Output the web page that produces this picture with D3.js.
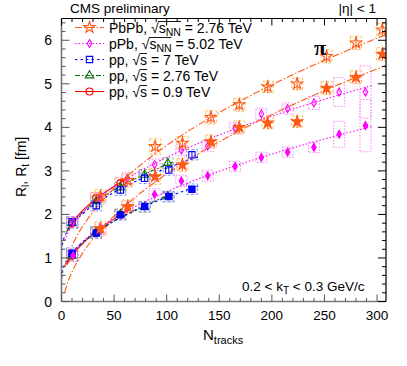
<!DOCTYPE html>
<html><head><meta charset="utf-8">
<script src="https://cdn.jsdelivr.net/npm/d3@7"></script>
<style>body{margin:0;background:#fff}svg{display:block;font-family:"Liberation Sans",Arial,sans-serif}</style>
</head><body><svg id="c" width="407" height="366"></svg>
<script>
// ---- data ----
const pbpbN = [37, 63, 89, 115, 142, 169, 196, 224, 252, 280, 305];
const pbpbRl = [2.42, 2.78, 3.56, 3.64, 4.23, 4.52, 4.93, 5.00, 5.63, 5.94, 6.24];
const pbpbRt = [1.68, 2.18, 2.87, 3.14, 3.67, 4.00, 4.10, 4.13, 4.90, 5.15, 5.68];
const pbpbSys = [0.15, 0.15, 0.18, 0.15, 0.15, 0.15, 0.13, 0.13, 0.15, 0.15, 0.15];

const ppbN = [11, 37, 62.5, 88.5, 114, 139, 165, 190, 215, 240, 264, 289];
const ppbRl = [1.82, 2.37, 2.83, 3.14, 3.48, 3.57, 3.98, 4.31, 4.43, 4.56, 4.81, 4.81];
const ppbRt = [1.05, 1.65, 2.18, 2.46, 2.77, 2.89, 3.10, 3.31, 3.43, 3.54, 3.84, 4.04];
const ppbSysL = [0.13, 0.13, 0.13, 0.13, 0.13, 0.13, 0.13, 0.13, 0.13, 0.15, 0.33, 0.6];
const ppbSysT = [0.13, 0.13, 0.13, 0.13, 0.13, 0.13, 0.12, 0.12, 0.12, 0.12, 0.3, 0.6];

const pp7N = [10, 33, 56, 79, 102, 124];
const pp7Rl = [1.83, 2.20, 2.56, 2.83, 3.02, 3.37];
const pp7Rt = [1.11, 1.57, 1.99, 2.18, 2.41, 2.58];

const pp276N = [10, 33, 56, 79, 101];
const pp276Rl = [1.80, 2.30, 2.62, 2.91, 3.18];
const pp276Rt = [1.05, 1.60, 2.00, 2.17, 2.41];

const pp09N = [10, 33, 56];
const pp09Rl = [1.80, 2.38, 2.72];
const pp09Rt = [1.05, 1.58, 2.00];

const xTicks = [0, 50, 100, 150, 200, 250, 300];
const yTicks = [0, 1, 2, 3, 4, 5, 6];

// ---- layout ----
const svg = d3.select("#c");
const L = 61.5, R = 386, T = 18.5, B = 301.5;
const x = d3.scaleLinear().domain([0, 308.5]).range([L, R]);
const y = d3.scaleLinear().domain([0, 6.5]).range([B, T]);

svg.append("clipPath").attr("id", "pc").append("rect")
  .attr("x", L).attr("y", T).attr("width", R - L).attr("height", B - T);

const series = [
  {name: "PbPb", N: pbpbN, Rl: pbpbRl, Rt: pbpbRt, sysL: pbpbSys, sysT: pbpbSys, col: "#ff5a14", box: "#ffc060",
   dash: "7,2,1.5,2", boxDash: "3,2", sym: d3.symbolStar, size: 40, fitRange: [3, 312], stat: 0.15},
  {name: "pPb", N: ppbN, Rl: ppbRl, Rt: ppbRt, sysL: ppbSysL, sysT: ppbSysT, col: "#ff00ff", box: "#ff80ff",
   dash: "1.5,2", boxDash: "1.5,1.5", sym: d3.symbolDiamond, size: 18, fitRange: [3, 295], stat: 0.1},
  {name: "pp7", N: pp7N, Rl: pp7Rl, Rt: pp7Rt, col: "#0000ff", box: "#8c8cff",
   dash: "2.5,3", boxDash: "3,2", sym: d3.symbolSquare, size: 40, fitRange: [0, 130], stat: 0.08},
  {name: "pp276", N: pp276N, Rl: pp276Rl, Rt: pp276Rt, col: "#107010", box: "#90b890",
   dash: "5,2,1.5,2", boxDash: "3,2", sym: d3.symbolTriangle, size: 30, fitRange: [5, 106], stat: 0.08},
  {name: "pp09", N: pp09N, Rl: pp09Rl, Rt: pp09Rt, col: "#ff0000", box: "#ff9a9a",
   dash: null, boxDash: "3,2", sym: d3.symbolCircle, size: 38, fitRange: [5, 65], stat: 0.08}
];

// least-squares fit R = a + b * sqrt(N)
function fit(N, V) {
  const g = n => Math.sqrt(n);
  const u = N.map(g);
  const mu = d3.mean(u), mv = d3.mean(V);
  let sxy = 0, sxx = 0;
  u.forEach((ui, i) => { sxy += (ui - mu) * (V[i] - mv); sxx += (ui - mu) * (ui - mu); });
  const b = sxy / sxx, a = mv - b * mu;
  return n => a + b * g(n);
}

const gPlot = svg.append("g").attr("clip-path", "url(#pc)");

// systematic boxes
series.slice().reverse().forEach(s => {
  ["Rl", "Rt"].forEach(k => {
    const sys = s[k === "Rl" ? "sysL" : "sysT"];
    s.N.forEach((n, i) => {
      const e = sys ? sys[i] : 0.12;
      gPlot.append("rect").attr("x", x(n) - 5.5).attr("width", 11)
        .attr("y", y(s[k][i] + e)).attr("height", y(s[k][i] - e) - y(s[k][i] + e))
        .attr("fill", "none").attr("stroke", s.box).attr("stroke-width", 1)
        .attr("stroke-dasharray", s.boxDash);
    });
  });
});

// fit lines
series.slice().reverse().forEach(s => {
  ["Rl", "Rt"].forEach(k => {
    const f = fit(s.N, s[k]);
    const pts = d3.range(80).map(i => s.fitRange[0] + (s.fitRange[1] - s.fitRange[0]) * i / 79);
    gPlot.append("path").datum(pts)
      .attr("d", d3.line().x(n => x(n)).y(n => y(f(n))))
      .attr("fill", "none").attr("stroke", s.col).attr("stroke-width", 1.1)
      .attr("stroke-dasharray", s.dash);
  });
});

// stat errors + markers
series.slice().reverse().forEach(s => {
  ["Rl", "Rt"].forEach(k => {
    s.N.forEach((n, i) => {
      const v = s[k][i];
      gPlot.append("line").attr("x1", x(n)).attr("x2", x(n))
        .attr("y1", y(v + s.stat)).attr("y2", y(v - s.stat))
        .attr("stroke", s.col).attr("stroke-width", 1)
        .attr("stroke-dasharray", s.name === "pPb" ? "1.5,1.5" : null);
      const open = k === "Rl";
      gPlot.append("path").attr("d", d3.symbol(s.sym, s.size)())
        .attr("transform", `translate(${x(n)},${y(v)})`)
        .attr("fill", open ? "none" : s.col).attr("stroke", s.col).attr("stroke-width", 1.1);
    });
  });
});

// ---- frame & ticks ----
const fr = svg.append("g");
fr.append("line").attr("x1", L).attr("x2", L).attr("y1", T).attr("y2", B).attr("stroke", "#777").attr("stroke-width", 1.6);
fr.append("line").attr("x1", L).attr("x2", R).attr("y1", B).attr("y2", B).attr("stroke", "#777").attr("stroke-width", 1.6);
fr.append("line").attr("x1", R).attr("x2", R).attr("y1", T).attr("y2", B).attr("stroke", "#000").attr("stroke-width", 1.2);
fr.append("line").attr("x1", L).attr("x2", R).attr("y1", T).attr("y2", T).attr("stroke", "#000").attr("stroke-width", 1.2);

d3.range(0, 309, 10).forEach(v => {
  const len = v % 50 === 0 ? 7 : 3.5;
  fr.append("line").attr("x1", x(v)).attr("x2", x(v)).attr("y1", B).attr("y2", B - len).attr("stroke", "#555");
  fr.append("line").attr("x1", x(v)).attr("x2", x(v)).attr("y1", T).attr("y2", T + len).attr("stroke", "#000");
});
d3.range(0, 6.41, 0.2).forEach(v => {
  const major = Math.abs(v - Math.round(v)) < 1e-6;
  const len = major ? 8 : 4;
  fr.append("line").attr("y1", y(v)).attr("y2", y(v)).attr("x1", L).attr("x2", L + len).attr("stroke", "#555");
  fr.append("line").attr("y1", y(v)).attr("y2", y(v)).attr("x1", R).attr("x2", R - len).attr("stroke", "#000");
});

// tick labels
svg.append("g").selectAll("text").data(xTicks).join("text")
  .attr("x", d => x(d)).attr("y", 320).attr("text-anchor", "middle")
  .attr("font-size", 13.5).text(d => d);
svg.append("g").selectAll("text").data(yTicks).join("text")
  .attr("x", 52).attr("y", d => y(d) + 5).attr("text-anchor", "end")
  .attr("font-size", 14).text(d => d);

// axis titles
const xt = svg.append("text").attr("x", 203).attr("y", 340).attr("font-size", 15);
xt.append("tspan").text("N");
xt.append("tspan").attr("font-size", 11).attr("dy", 4).text("tracks");

const yt = svg.append("text").attr("transform", "translate(26,197) rotate(-90)").attr("font-size", 14);
yt.append("tspan").text("R");
yt.append("tspan").attr("font-size", 10).attr("dy", 3).text("l");
yt.append("tspan").attr("dy", -3).text(", R");
yt.append("tspan").attr("font-size", 10).attr("dy", 3).text("t");
yt.append("tspan").attr("dy", -3).text(" [fm]");

// top texts
svg.append("text").attr("x", 70).attr("y", 12.5).attr("font-size", 13.5).text("CMS preliminary");
svg.append("text").attr("x", 376).attr("y", 12.5).attr("font-size", 13.5).attr("text-anchor", "end").text("|η| < 1");
svg.append("text").attr("x", 314).attr("y", 55).attr("font-size", 22).attr("font-weight", "bold")
  .attr("font-family", "'Liberation Serif','Times New Roman',serif").text("π");

const kt = svg.append("text").attr("x", 242).attr("y", 291).attr("font-size", 13.5);
kt.append("tspan").text("0.2 < k");
kt.append("tspan").attr("font-size", 10).attr("dy", 3).text("T");
kt.append("tspan").attr("dy", -3).text(" < 0.3 GeV/c");

// ---- legend ----
const legend = [
  {s: series[0], parts: [["PbPb, "], ["√"], ["s", "o"], ["NN", "os"], [" = 2.76 TeV"]]},
  {s: series[1], parts: [["pPb, "], ["√"], ["s", "o"], ["NN", "os"], [" = 5.02 TeV"]]},
  {s: series[2], parts: [["pp, "], ["√"], ["s", "o"], [" = 7 TeV"]]},
  {s: series[3], parts: [["pp, "], ["√"], ["s", "o"], [" = 2.76 TeV"]]},
  {s: series[4], parts: [["pp, "], ["√"], ["s", "o"], [" = 0.9 TeV"]]}
];
const legY = [27.5, 43.5, 59.5, 75.5, 91.5];
legend.forEach((e, i) => {
  const yy = legY[i], s = e.s;
  svg.append("line").attr("x1", 75).attr("x2", 104).attr("y1", yy).attr("y2", yy)
    .attr("stroke", s.col).attr("stroke-width", 1.1).attr("stroke-dasharray", s.dash);
  svg.append("path").attr("d", d3.symbol(s.sym, s.size)()).attr("transform", `translate(89.5,${yy})`)
    .attr("fill", "none").attr("stroke", s.col).attr("stroke-width", 1.1);
  const t = svg.append("text").attr("x", 109).attr("y", yy + 5).attr("font-size", 14);
  let idx = 0; const over = []; let sqIdx = -1; let prevSub = false;
  e.parts.forEach(p => {
    const sub = p[1] && p[1].includes("s");
    const ts = t.append("tspan").text(p[0]);
    if (sub) ts.attr("font-size", 10.5).attr("dy", 3);
    else if (prevSub) ts.attr("dy", -3);
    prevSub = sub;
    if (p[0] === "√") sqIdx = idx;
    if (p[1] && p[1].includes("o")) for (let c = 0; c < p[0].length; c++) over.push(idx + c);
    idx += p[0].length;
  });
  const node = t.node();
  if (sqIdx >= 0 && over.length) {
    const sq = node.getExtentOfChar(sqIdx);
    const last = node.getExtentOfChar(over[over.length - 1]);
    svg.append("line").attr("x1", sq.x + sq.width - 0.5).attr("x2", last.x + last.width)
      .attr("y1", sq.y + 2).attr("y2", sq.y + 2).attr("stroke", "#000").attr("stroke-width", 0.9);
  }
});
</script></body></html>
